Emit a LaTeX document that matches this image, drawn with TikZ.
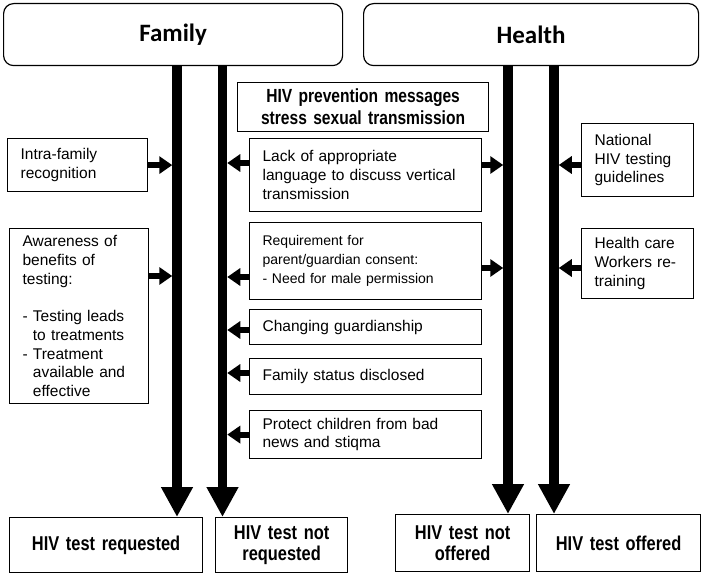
\documentclass[tikz,border=0pt]{standalone}
\usepackage{fontspec}
\setmainfont{Liberation Sans}
\newfontfamily\headfont{Carlito}
\newfontfamily\narrowfont[FakeStretch=0.82]{Liberation Sans}
\usetikzlibrary{arrows.meta, calc, positioning}
\tikzstyle{box} = [rectangle, draw=black, line width=1.2pt, anchor=north west, inner xsep=13pt, inner ysep=0pt, align=left, font=\fontsize{15.5}{18.7}\selectfont]
\tikzstyle{head} = [box, rounded corners=10pt, align=center, font=\headfont\bfseries\fontsize{25}{30}\selectfont]
\tikzstyle{result} = [box, align=center, font=\narrowfont\bfseries\fontsize{20}{21}\selectfont]
\tikzstyle{bar} = [line width=9.5pt, -{Triangle[width=30pt,length=30pt]}]
\tikzstyle{arrow} = [line width=6pt, -{Triangle[width=17pt,length=13pt]}, shorten >=4.75pt]

\begin{document}
\begin{tikzpicture}[x=1pt, y=-1pt]
	\useasboundingbox (0,0) rectangle (709,575);
	% top boxes
	\node (Family) [head, minimum width=339pt, minimum height=62pt, text width=313pt] at (3,3) {Family};
	\node (Health) [head, minimum width=335pt, minimum height=62pt, text width=309pt] at (363,3) {Health};
	\node (Prevention) [result, font=\narrowfont\bfseries\fontsize{19}{22}\selectfont, minimum width=251pt, minimum height=49pt, text width=225pt] at (237,82) {HIV prevention messages\\stress sexual transmission};
	% family side
	\node (Intra) [box, minimum width=140pt, minimum height=53pt, text width=114pt] at (7,138) {Intra-family\\recognition};
	\node (Aware) [box, minimum width=139pt, minimum height=175pt, text width=113pt] at (9,228) {Awareness of\\benefits of\\testing:\\[18.7pt]- Testing leads\\\phantom{- }to treatments\\- Treatment\\\phantom{- }available and\\\phantom{- }effective};
	% middle column
	\node (Lack) [box, minimum width=232pt, minimum height=73pt, text width=206pt] at (249,138) {Lack of appropriate\\language to discuss vertical\\transmission};
	\node (Consent) [box, font=\fontsize{14}{19}\selectfont, minimum width=232pt, minimum height=77pt, text width=206pt] at (249,222) {Requirement for\\parent/guardian consent:\\- Need for male permission};
	\node (Guardian) [box, minimum width=232pt, minimum height=35pt, text width=206pt] at (249,309) {Changing guardianship};
	\node (Status) [box, minimum width=232pt, minimum height=36pt, text width=206pt] at (249,358) {Family status disclosed};
	\node (Protect) [box, minimum width=232pt, minimum height=48pt, text width=206pt] at (249,410) {Protect children from bad\\news and stiqma};
	% health side
	\node (Guidelines) [box, minimum width=112pt, minimum height=73pt, text width=86pt] at (581,123) {National\\HIV testing\\guidelines};
	\node (Retraining) [box, minimum width=112pt, minimum height=70pt, text width=86pt] at (581,228) {Health care\\Workers re-\\training};
	% outcomes
	\node (Requested) [result, minimum width=193pt, minimum height=55pt, text width=167pt] at (9,517) {HIV test requested};
	\node (NotRequested) [result, minimum width=132pt, minimum height=55pt, text width=106pt] at (215,517) {HIV test not\\requested};
	\node (NotOffered) [result, minimum width=134pt, minimum height=57pt, text width=108pt] at (395,514) {HIV test not\\offered};
	\node (Offered) [result, minimum width=164pt, minimum height=57pt, text width=138pt] at (536,514) {HIV test offered};
	% bar positions
	\coordinate (famA) at (177,0);
	\coordinate (famB) at (222.5,0);
	\coordinate (heaA) at (508,0);
	\coordinate (heaB) at (554,0);
	\draw [bar] (Family.south -| famA) -- (Requested.north -| famA);
	\draw [bar] (Family.south -| famB) -- (NotRequested.north -| famB);
	\draw [bar] (Health.south -| heaA) -- (NotOffered.north -| heaA);
	\draw [bar] (Health.south -| heaB) -- (Offered.north -| heaB);
	% arrow starts
	\coordinate (intraR) at (Intra.east);
	\coordinate (awareR) at ([yshift=-48pt]Aware.north east);
	\coordinate (lackL) at ([yshift=-25pt]Lack.north west);
	\coordinate (lackR) at ([yshift=-27pt]Lack.north east);
	\coordinate (consentL) at ([yshift=-55pt]Consent.north west);
	\coordinate (consentR) at ([yshift=-46pt]Consent.north east);
	\coordinate (guardianL) at ([yshift=-21pt]Guardian.north west);
	\coordinate (statusL) at ([yshift=-15pt]Status.north west);
	\coordinate (protectL) at (Protect.west);
	\coordinate (guidelinesL) at ([yshift=-42pt]Guidelines.north west);
	\coordinate (retrainingL) at ([yshift=-40pt]Retraining.north west);
	\draw [arrow] (intraR) -- (intraR -| famA);
	\draw [arrow] (awareR) -- (awareR -| famA);
	\draw [arrow] (lackL) -- (lackL -| famB);
	\draw [arrow] (lackR) -- (lackR -| heaA);
	\draw [arrow] (consentL) -- (consentL -| famB);
	\draw [arrow] (consentR) -- (consentR -| heaA);
	\draw [arrow] (guardianL) -- (guardianL -| famB);
	\draw [arrow] (statusL) -- (statusL -| famB);
	\draw [arrow] (protectL) -- (protectL -| famB);
	\draw [arrow] (guidelinesL) -- (guidelinesL -| heaB);
	\draw [arrow] (retrainingL) -- (retrainingL -| heaB);
\end{tikzpicture}
\end{document}
